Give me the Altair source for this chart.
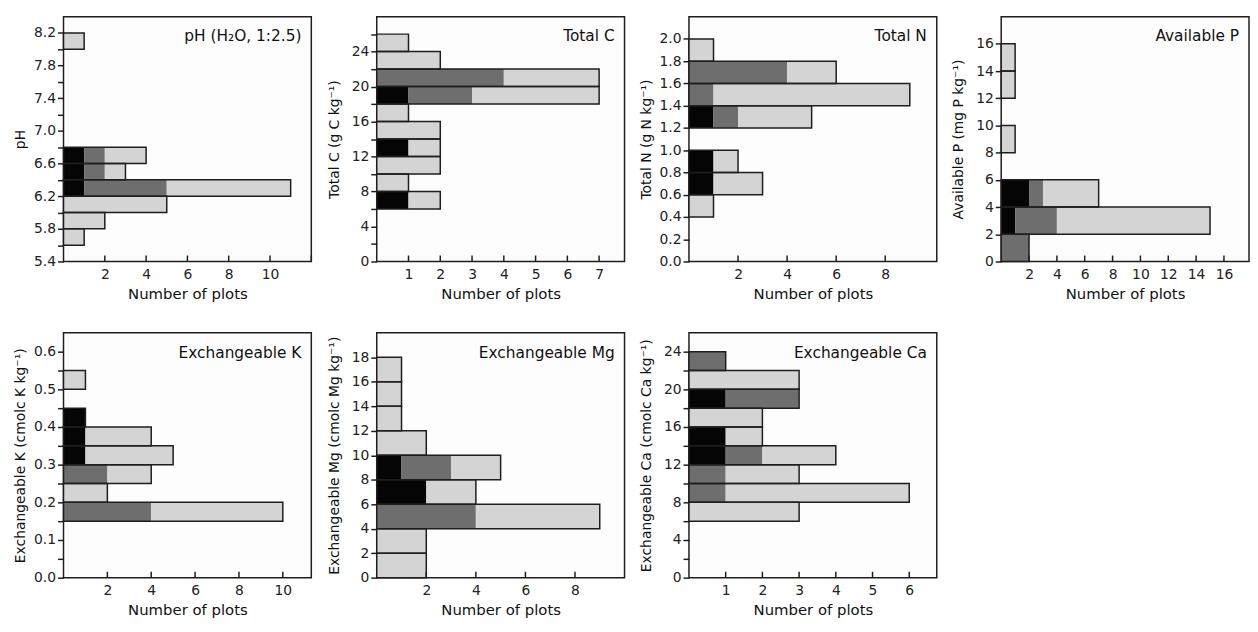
import altair as alt
import pandas as pd

FONT = "DejaVu Sans"
W = 250
H = 247
INK = "#1e1e1e"

# ---------------- data (lower bin edges, counts per class) ----------------
ph_lo = [5.6, 5.8, 6.0, 6.2, 6.4, 6.6, 8.0]
ph_black = [0, 0, 0, 1, 1, 1, 0]
ph_dark = [0, 0, 0, 4, 1, 1, 0]
ph_light = [1, 2, 5, 6, 1, 2, 1]

c_lo = [6, 8, 10, 12, 14, 16, 18, 20, 22, 24]
c_black = [1, 0, 0, 1, 0, 0, 1, 0, 0, 0]
c_dark = [0, 0, 0, 0, 0, 0, 2, 4, 0, 0]
c_light = [1, 1, 2, 1, 2, 1, 4, 3, 2, 1]

n_lo = [0.4, 0.6, 0.8, 1.2, 1.4, 1.6, 1.8]
n_black = [0, 1, 1, 1, 0, 0, 0]
n_dark = [0, 0, 0, 1, 1, 4, 0]
n_light = [1, 2, 1, 3, 8, 2, 1]

p_lo = [0, 2, 4, 8, 12, 14]
p_black = [0, 1, 2, 0, 0, 0]
p_dark = [2, 3, 1, 0, 0, 0]
p_light = [0, 11, 4, 1, 1, 1]

k_lo = [0.15, 0.20, 0.25, 0.30, 0.35, 0.40, 0.50]
k_black = [0, 0, 0, 1, 1, 1, 0]
k_dark = [4, 0, 2, 0, 0, 0, 0]
k_light = [6, 2, 2, 4, 3, 0, 1]

mg_lo = [0, 2, 4, 6, 8, 10, 12, 14, 16]
mg_black = [0, 0, 0, 2, 1, 0, 0, 0, 0]
mg_dark = [0, 0, 4, 0, 2, 0, 0, 0, 0]
mg_light = [2, 2, 5, 2, 2, 2, 1, 1, 1]

ca_lo = [6, 8, 10, 12, 14, 16, 18, 20, 22]
ca_black = [0, 0, 0, 1, 1, 0, 1, 0, 0]
ca_dark = [0, 1, 1, 1, 0, 0, 2, 0, 1]
ca_light = [3, 5, 2, 2, 1, 2, 0, 3, 0]

classes = ["black", "dark", "light"]
class_colors = ["#050505", "#6e6e6e", "#d4d4d4"]

panels = [
    dict(name="pH (H₂O, 1:2.5)", ytitle="pH", lo=ph_lo, b=ph_black, d=ph_dark, l=ph_light, bw=0.2,
         ydom=[5.4, 8.4], yticks=[round(5.4 + 0.2 * i, 1) for i in range(15)], ys=5.4, ystep=0.4, yfmt=".1f",
         xdom=[0, 12], xlabels=[2, 4, 6, 8, 10], xticks=[2, 4, 6, 8, 10, 12]),
    dict(name="Total C", ytitle="Total C (g C kg⁻¹)", lo=c_lo, b=c_black, d=c_dark, l=c_light, bw=2,
         ydom=[0, 28], yticks=list(range(0, 27, 2)), ys=0, ystep=4, yfmt="d",
         xdom=[0, 7.8], xlabels=[1, 2, 3, 4, 5, 6, 7], xticks=[1, 2, 3, 4, 5, 6, 7]),
    dict(name="Total N", ytitle="Total N (g N kg⁻¹)", lo=n_lo, b=n_black, d=n_dark, l=n_light, bw=0.2,
         ydom=[0, 2.2], yticks=[round(0.2 * i, 1) for i in range(11)], ys=0, ystep=0.2, yfmt=".1f",
         xdom=[0, 10.1], xlabels=[2, 4, 6, 8], xticks=[2, 4, 6, 8]),
    dict(name="Available P", ytitle="Available P (mg P kg⁻¹)", lo=p_lo, b=p_black, d=p_dark, l=p_light, bw=2,
         ydom=[0, 18], yticks=list(range(0, 17, 2)), ys=0, ystep=2, yfmt="d",
         xdom=[0, 17.8], xlabels=[2, 4, 6, 8, 10, 12, 14, 16], xticks=[2, 4, 6, 8, 10, 12, 14, 16]),
    dict(name="Exchangeable K", ytitle="Exchangeable K (cmolc K kg⁻¹)", lo=k_lo, b=k_black, d=k_dark, l=k_light, bw=0.05,
         ydom=[0, 0.65], yticks=[round(0.05 * i, 2) for i in range(13)], ys=0, ystep=0.1, yfmt=".1f",
         xdom=[0, 11.3], xlabels=[2, 4, 6, 8, 10], xticks=[2, 4, 6, 8, 10]),
    dict(name="Exchangeable Mg", ytitle="Exchangeable Mg (cmolc Mg kg⁻¹)", lo=mg_lo, b=mg_black, d=mg_dark, l=mg_light, bw=2,
         ydom=[0, 20], yticks=list(range(0, 19, 2)), ys=0, ystep=2, yfmt="d",
         xdom=[0, 10], xlabels=[2, 4, 6, 8], xticks=[2, 4, 6, 8]),
    dict(name="Exchangeable Ca", ytitle="Exchangeable Ca (cmolc Ca kg⁻¹)", lo=ca_lo, b=ca_black, d=ca_dark, l=ca_light, bw=2,
         ydom=[0, 26], yticks=list(range(0, 25, 2)), ys=0, ystep=4, yfmt="d",
         xdom=[0, 6.75], xlabels=[1, 2, 3, 4, 5, 6], xticks=[1, 2, 3, 4, 5, 6]),
]


def make_panel(p):
    seg_rows, out_rows = [], []
    for i, lo in enumerate(p["lo"]):
        start = 0
        for cat, arr in zip(classes, (p["b"], p["d"], p["l"])):
            v = arr[i]
            if v > 0:
                seg_rows.append(dict(y0=lo, y1=lo + p["bw"], x0=start, x1=start + v, cat=cat))
                start += v
        if start > 0:
            out_rows.append(dict(y0=lo, y1=lo + p["bw"], x0=0, x1=start))
    seg = pd.DataFrame(seg_rows)
    out = pd.DataFrame(out_rows)

    xs = alt.Scale(domain=p["xdom"], nice=False, zero=False)
    ys = alt.Scale(domain=p["ydom"], nice=False, zero=False)
    s, st, fmt = p["ys"], p["ystep"], p["yfmt"]
    label_expr = (f"abs((datum.value - {s})/{st} - round((datum.value - {s})/{st})) < 0.01"
                  f" ? format(datum.value, '{fmt}') : ''")
    xaxis = alt.Axis(values=p["xlabels"], ticks=False, domain=False, grid=False,
                     title="Number of plots", labelPadding=6, titlePadding=5, format="d")
    yaxis = alt.Axis(values=p["yticks"], labelExpr=label_expr, domain=False, grid=False,
                     tickSize=6, title=p["ytitle"], minExtent=32, maxExtent=32, titlePadding=4,
                     labelPadding=2)

    bars = alt.Chart(seg).mark_rect(strokeWidth=0).encode(
        x=alt.X("x0:Q", scale=xs, axis=xaxis),
        x2="x1:Q",
        y=alt.Y("y0:Q", scale=ys, axis=yaxis),
        y2="y1:Q",
        fill=alt.Fill("cat:N", scale=alt.Scale(domain=classes, range=class_colors), legend=None),
    )
    outline = alt.Chart(out).mark_rect(fillOpacity=0, fill="white", stroke=INK, strokeWidth=1.5).encode(
        x=alt.X("x0:Q", scale=xs, axis=xaxis),
        x2="x1:Q",
        y=alt.Y("y0:Q", scale=ys, axis=yaxis),
        y2="y1:Q",
    )
    ticks = alt.Chart(pd.DataFrame({"t": p["xticks"]})).mark_rule(color=INK, strokeWidth=1.5).encode(
        x=alt.X("t:Q", scale=xs, axis=xaxis),
        y=alt.value(H - 6),
        y2=alt.value(H),
    )
    label = alt.Chart(pd.DataFrame({"name": [p["name"]]})).mark_text(
        align="right", baseline="middle", fontSize=15.5, font=FONT, color="#111111"
    ).encode(x=alt.value(W - 10), y=alt.value(20), text="name:N")

    return alt.layer(bars, outline, ticks, label).properties(width=W, height=H)


chart = alt.concat(
    *[make_panel(p) for p in panels],
    columns=4,
    spacing={"row": 30, "column": 13},
).properties(
    padding={"left": 5, "top": 5, "right": 0, "bottom": 0},
    background="white",
).configure_view(
    stroke=INK, strokeWidth=1.5, fill="#fdfdfd"
).configure_axis(
    labelFont=FONT, labelFontSize=14, labelColor="#222222",
    titleFont=FONT, titleFontSize=14, titleFontWeight="normal", titleColor="#111111",
    tickColor=INK, tickWidth=1.5,
).configure_axisX(
    titleFontSize=15,
)

chart.save("out.html", embed_options={"renderer": "svg", "actions": False})
